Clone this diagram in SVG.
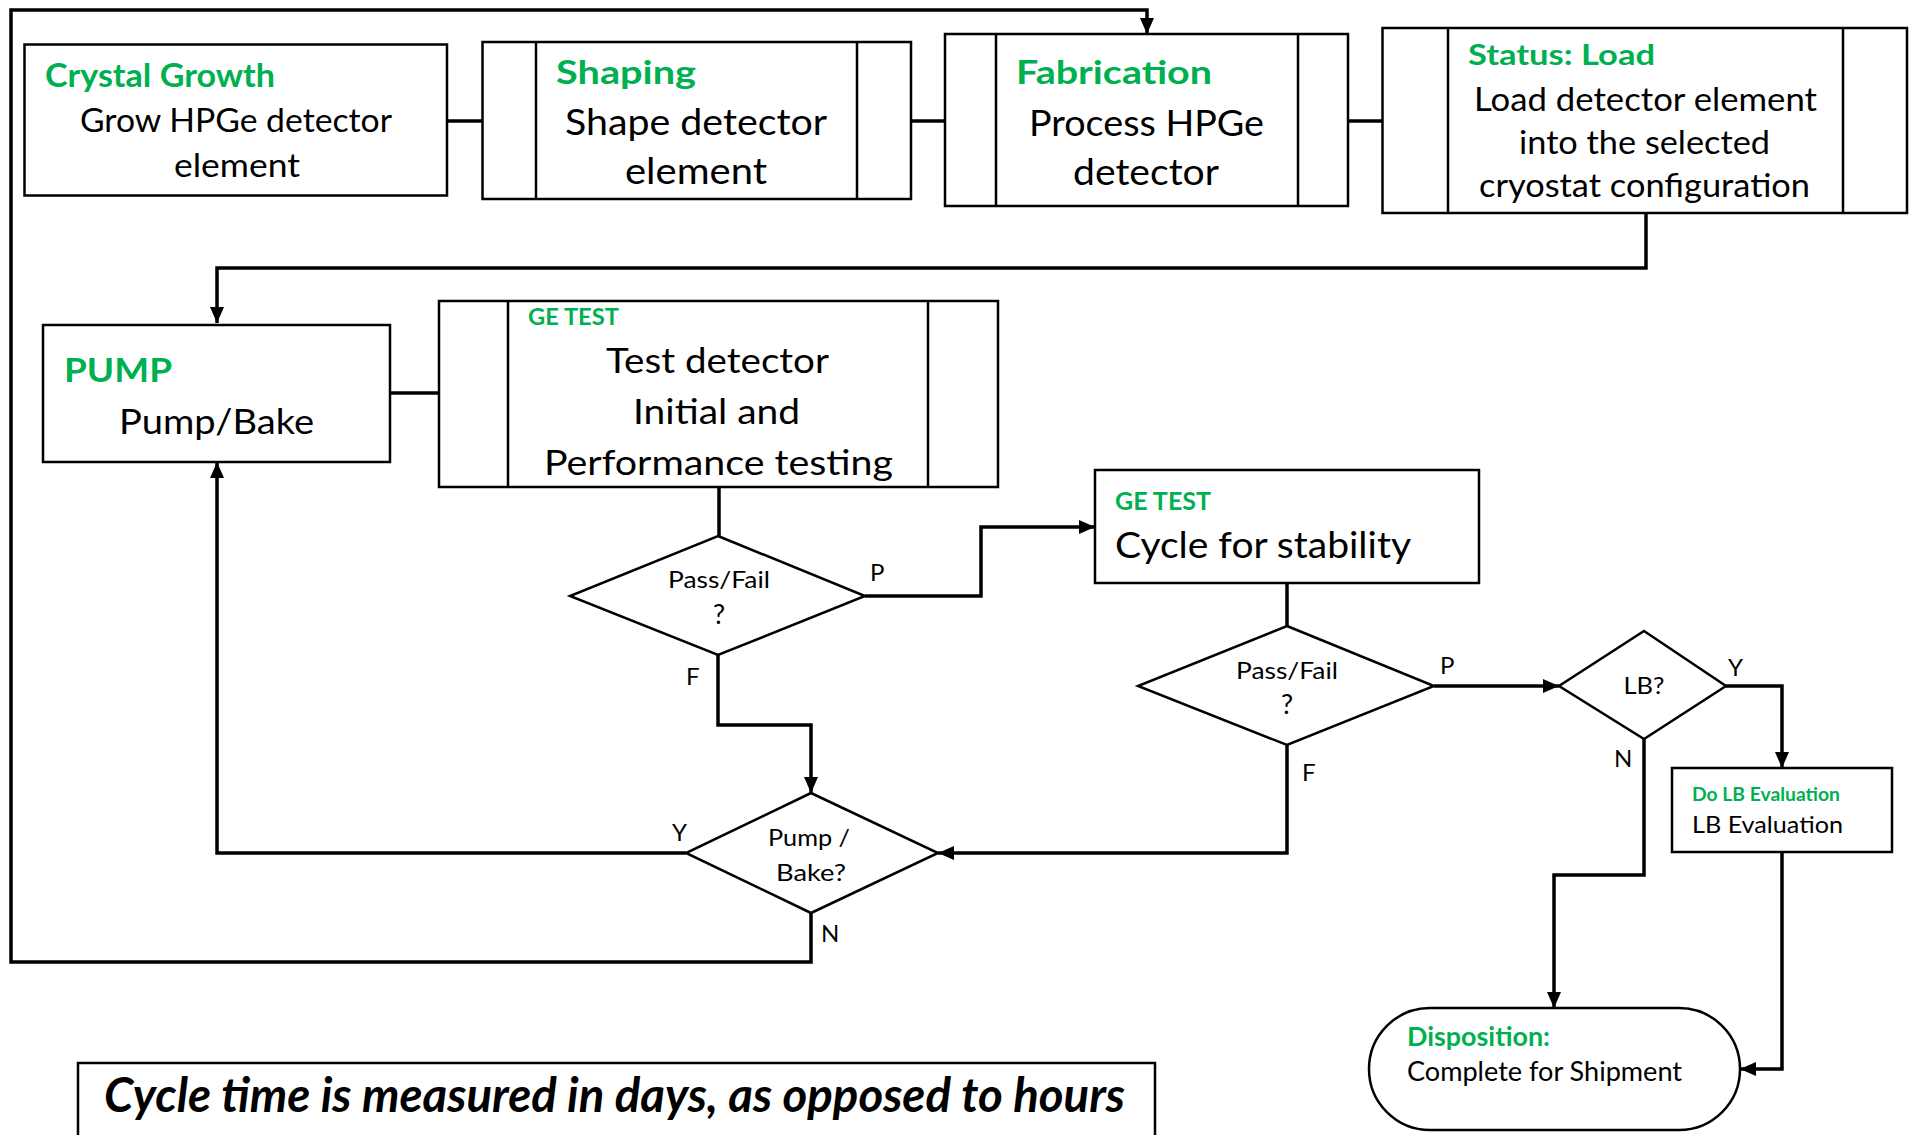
<svg xmlns="http://www.w3.org/2000/svg" width="1913" height="1135" viewBox="0 0 1913 1135">
<style>
  text { font-family: Lato, "Liberation Sans", sans-serif; fill: #000; }
  .g { fill: #00B050; font-weight: bold; }
  .box { fill: #fff; stroke: #000; stroke-width: 2.5; }
  .div { stroke: #000; stroke-width: 2.5; }
  .con { fill: none; stroke: #000; stroke-width: 3.5; stroke-linejoin: miter; }
  .lbl { font-size: 24px; }
  .dt { font-size: 23px; text-anchor: middle; }
  .q { font-size: 27px; text-anchor: middle; }
</style>
<defs>
  <marker id="ah" markerUnits="userSpaceOnUse" markerWidth="18" markerHeight="18" viewBox="0 0 18 18" refX="17" refY="9" orient="auto">
    <path d="M1,2 L17,9 L1,16 Z" fill="#000"/>
  </marker>
</defs>

<g id="connectors">
  <path class="con" d="M447,121 H483"/>
  <path class="con" d="M911,121 H945"/>
  <path class="con" d="M1348,121 H1383"/>
  <path class="con" d="M1646,213 V268 H217 V323" marker-end="url(#ah)"/>
  <path class="con" d="M390,393 H439"/>
  <path class="con" d="M719,487 V536"/>
  <path class="con" d="M865,596 H981 V527 H1095" marker-end="url(#ah)"/>
  <path class="con" d="M718,655 V725 H811 V793" marker-end="url(#ah)"/>
  <path class="con" d="M686,853 H217 V462" marker-end="url(#ah)"/>
  <path class="con" d="M811,913 V962 H11 V10 H1147 V34" marker-end="url(#ah)"/>
  <path class="con" d="M1287,583 V626"/>
  <path class="con" d="M1434,686 H1559" marker-end="url(#ah)"/>
  <path class="con" d="M1287,745 V853 H938" marker-end="url(#ah)"/>
  <path class="con" d="M1726,686 H1782 V768" marker-end="url(#ah)"/>
  <path class="con" d="M1644,739 V875 H1554 V1008" marker-end="url(#ah)"/>
  <path class="con" d="M1782,852 V1069 H1740" marker-end="url(#ah)"/>
</g>

<g id="crystal-growth">
  <rect class="box" x="24.5" y="44.5" width="422.5" height="151"/>
  <text class="g" x="45" y="87" font-size="32" textLength="230" lengthAdjust="spacingAndGlyphs">Crystal Growth</text>
  <text x="80" y="132" font-size="32" textLength="312" lengthAdjust="spacingAndGlyphs">Grow HPGe detector</text>
  <text x="174" y="177" font-size="32" textLength="126" lengthAdjust="spacingAndGlyphs">element</text>
</g>

<g id="shaping">
  <rect class="box" x="482.5" y="42" width="428.5" height="157"/>
  <line class="div" x1="536" y1="42" x2="536" y2="199"/>
  <line class="div" x1="857" y1="42" x2="857" y2="199"/>
  <text class="g" x="556" y="84" font-size="32" textLength="140" lengthAdjust="spacingAndGlyphs">Shaping</text>
  <text x="565" y="135" font-size="36" textLength="262" lengthAdjust="spacingAndGlyphs">Shape detector</text>
  <text x="625" y="184" font-size="36" textLength="142" lengthAdjust="spacingAndGlyphs">element</text>
</g>

<g id="fabrication">
  <rect class="box" x="945" y="34" width="403" height="172"/>
  <line class="div" x1="996" y1="34" x2="996" y2="206"/>
  <line class="div" x1="1298" y1="34" x2="1298" y2="206"/>
  <text class="g" x="1016" y="84" font-size="32" textLength="196" lengthAdjust="spacingAndGlyphs">Fabrication</text>
  <text x="1029" y="136" font-size="36" textLength="235" lengthAdjust="spacingAndGlyphs">Process HPGe</text>
  <text x="1073" y="185" font-size="36" textLength="146" lengthAdjust="spacingAndGlyphs">detector</text>
</g>

<g id="status-load">
  <rect class="box" x="1382.5" y="28" width="524.5" height="185"/>
  <line class="div" x1="1448" y1="28" x2="1448" y2="213"/>
  <line class="div" x1="1843" y1="28" x2="1843" y2="213"/>
  <text class="g" x="1468" y="65" font-size="29" textLength="187" lengthAdjust="spacingAndGlyphs">Status: Load</text>
  <text x="1474" y="111" font-size="32" textLength="343" lengthAdjust="spacingAndGlyphs">Load detector element</text>
  <text x="1519" y="154" font-size="32" textLength="251" lengthAdjust="spacingAndGlyphs">into the selected</text>
  <text x="1479" y="197" font-size="32" textLength="331" lengthAdjust="spacingAndGlyphs">cryostat configuration</text>
</g>

<g id="pump">
  <rect class="box" x="43" y="325" width="347" height="137"/>
  <text class="g" x="64" y="382" font-size="32" textLength="108" lengthAdjust="spacingAndGlyphs">PUMP</text>
  <text x="119" y="434" font-size="35" textLength="195" lengthAdjust="spacingAndGlyphs">Pump/Bake</text>
</g>

<g id="ge-test-initial">
  <rect class="box" x="439" y="301" width="559" height="186"/>
  <line class="div" x1="508" y1="301" x2="508" y2="487"/>
  <line class="div" x1="928" y1="301" x2="928" y2="487"/>
  <text class="g" x="528" y="325" font-size="22" textLength="91" lengthAdjust="spacingAndGlyphs">GE TEST</text>
  <text x="606" y="373" font-size="35" textLength="223" lengthAdjust="spacingAndGlyphs">Test detector</text>
  <text x="633" y="424" font-size="35" textLength="167" lengthAdjust="spacingAndGlyphs">Initial and</text>
  <text x="544" y="475" font-size="35" textLength="349" lengthAdjust="spacingAndGlyphs">Performance testing</text>
</g>

<g id="pass-fail-1">
  <polygon class="box" points="718,536 865,596 718,655 570,596"/>
  <text class="dt" x="719" y="588" textLength="102" lengthAdjust="spacingAndGlyphs">Pass/Fail</text>
  <text class="q" x="719" y="624">?</text>
</g>

<g id="ge-test-cycle">
  <rect class="box" x="1095" y="470" width="384" height="113"/>
  <text class="g" x="1115" y="510" font-size="24" textLength="96" lengthAdjust="spacingAndGlyphs">GE TEST</text>
  <text x="1115" y="558" font-size="36" textLength="296" lengthAdjust="spacingAndGlyphs">Cycle for stability</text>
</g>

<g id="pump-bake-decision">
  <polygon class="box" points="811,793 938,853 811,913 686,853"/>
  <text class="dt" x="809" y="846" textLength="82" lengthAdjust="spacingAndGlyphs">Pump /</text>
  <text class="dt" x="811" y="881" textLength="70" lengthAdjust="spacingAndGlyphs">Bake?</text>
</g>

<g id="pass-fail-2">
  <polygon class="box" points="1287,626 1434,686 1287,745 1138,686"/>
  <text class="dt" x="1287" y="679" textLength="102" lengthAdjust="spacingAndGlyphs">Pass/Fail</text>
  <text class="q" x="1287" y="714">?</text>
</g>

<g id="lb-decision">
  <polygon class="box" points="1644,631 1726,686 1644,739 1559,686"/>
  <text class="dt" x="1644" y="694" textLength="41" lengthAdjust="spacingAndGlyphs">LB?</text>
</g>

<g id="lb-evaluation">
  <rect class="box" x="1672" y="768" width="220" height="84"/>
  <text class="g" x="1692" y="801" font-size="19" textLength="148" lengthAdjust="spacingAndGlyphs">Do LB Evaluation</text>
  <text x="1692" y="833" font-size="24" textLength="151" lengthAdjust="spacingAndGlyphs">LB Evaluation</text>
</g>

<g id="disposition">
  <rect class="box" x="1369" y="1008" width="371" height="122" rx="61" ry="61"/>
  <text class="g" x="1407" y="1046" font-size="26" textLength="143" lengthAdjust="spacingAndGlyphs">Disposition:</text>
  <text x="1407" y="1081" font-size="26" textLength="275" lengthAdjust="spacingAndGlyphs">Complete for Shipment</text>
</g>

<g id="labels">
  <text class="lbl" x="870" y="581">P</text>
  <text class="lbl" x="686" y="685">F</text>
  <text class="lbl" x="672" y="841">Y</text>
  <text class="lbl" x="821" y="942">N</text>
  <text class="lbl" x="1440" y="674">P</text>
  <text class="lbl" x="1302" y="781">F</text>
  <text class="lbl" x="1728" y="676">Y</text>
  <text class="lbl" x="1614" y="767">N</text>
</g>

<g id="note">
  <rect class="box" x="78" y="1063" width="1077" height="90"/>
  <text x="104" y="1112" font-size="48" font-weight="bold" font-style="italic" textLength="1021" lengthAdjust="spacingAndGlyphs">Cycle time is measured in days, as opposed to hours</text>
</g>
</svg>
